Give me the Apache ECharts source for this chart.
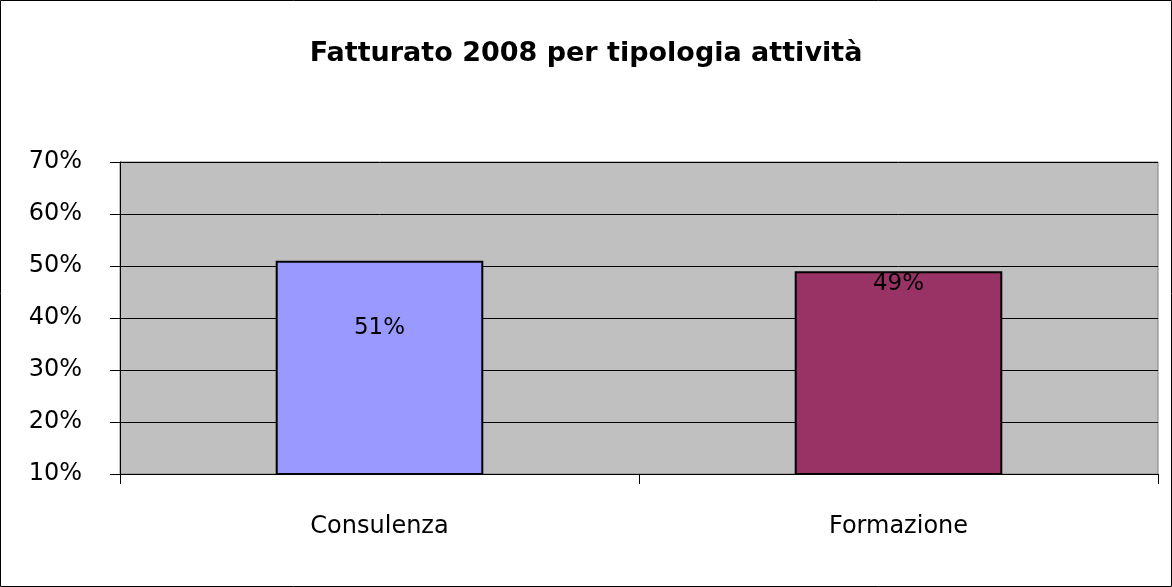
<!DOCTYPE html>
<html>
<head>
<meta charset="utf-8">
<script src="https://cdn.jsdelivr.net/npm/echarts@6/dist/echarts.min.js"></script>
<style>
  html, body { margin: 0; padding: 0; background: #fff; }
  #chart { width: 1172px; height: 587px; }
</style>
</head>
<body>
<div id="chart"></div>
<script>
// dati
const categorie = ['Consulenza', 'Formazione'];
const valori = [51, 49];
const colori = ['#9999FF', '#993366'];
// distanza dell'etichetta dal bordo superiore della barra (px)
const etichettaY = [67, 13];

const chart = echarts.init(document.getElementById('chart'));
const font = 'DejaVu Sans';

const option = {
    animation: false,
    title: {
        text: 'Fatturato 2008 per tipologia attività',
        left: 581,
        top: 35,
        textAlign: 'center',
        textStyle: { fontFamily: font, fontSize: 27, fontWeight: 'bold', color: '#000' }
    },
    graphic: [{
        type: 'rect',
        shape: { x: 0.5, y: 0.5, width: 1171, height: 586 },
        style: { fill: 'none', stroke: '#000', lineWidth: 1 },
        silent: true
    }],
    grid: {
        left: 120, right: 14, top: 162, bottom: 113,
        show: true,
        backgroundColor: '#C0C0C0',
        borderColor: '#808080',
        borderWidth: 1
    },
    xAxis: {
        type: 'category',
        data: categorie,
        axisLine: { lineStyle: { color: '#000', width: 1 } },
        axisTick: { show: true, length: 10, alignWithLabel: false, lineStyle: { color: '#000' } },
        axisLabel: { fontFamily: font, fontSize: 24, color: '#000', margin: 41 }
    },
    yAxis: {
        type: 'value',
        min: 10,
        max: 70,
        interval: 10,
        axisLine: { show: true, lineStyle: { color: '#000', width: 1 } },
        axisTick: { show: true, length: 10, lineStyle: { color: '#000' } },
        axisLabel: {
            fontFamily: font, fontSize: 24, color: '#000', margin: 38,
            formatter: v => v + '%'
        },
        splitLine: { show: true, lineStyle: { color: '#000', width: 1 } }
    },
    series: [{
        type: 'bar',
        barWidth: '40%',
        data: valori.map((v, i) => ({
            value: v,
            itemStyle: { color: colori[i], borderColor: '#000', borderWidth: 2 },
            label: {
                show: true,
                position: ['50%', etichettaY[i]],
                align: 'center',
                verticalAlign: 'middle',
                formatter: '{c}%',
                fontFamily: font,
                fontSize: 23,
                color: '#000'
            }
        }))
    }]
};

chart.setOption(option);
window.addEventListener('resize', () => chart.resize());
</script>
</body>
</html>
